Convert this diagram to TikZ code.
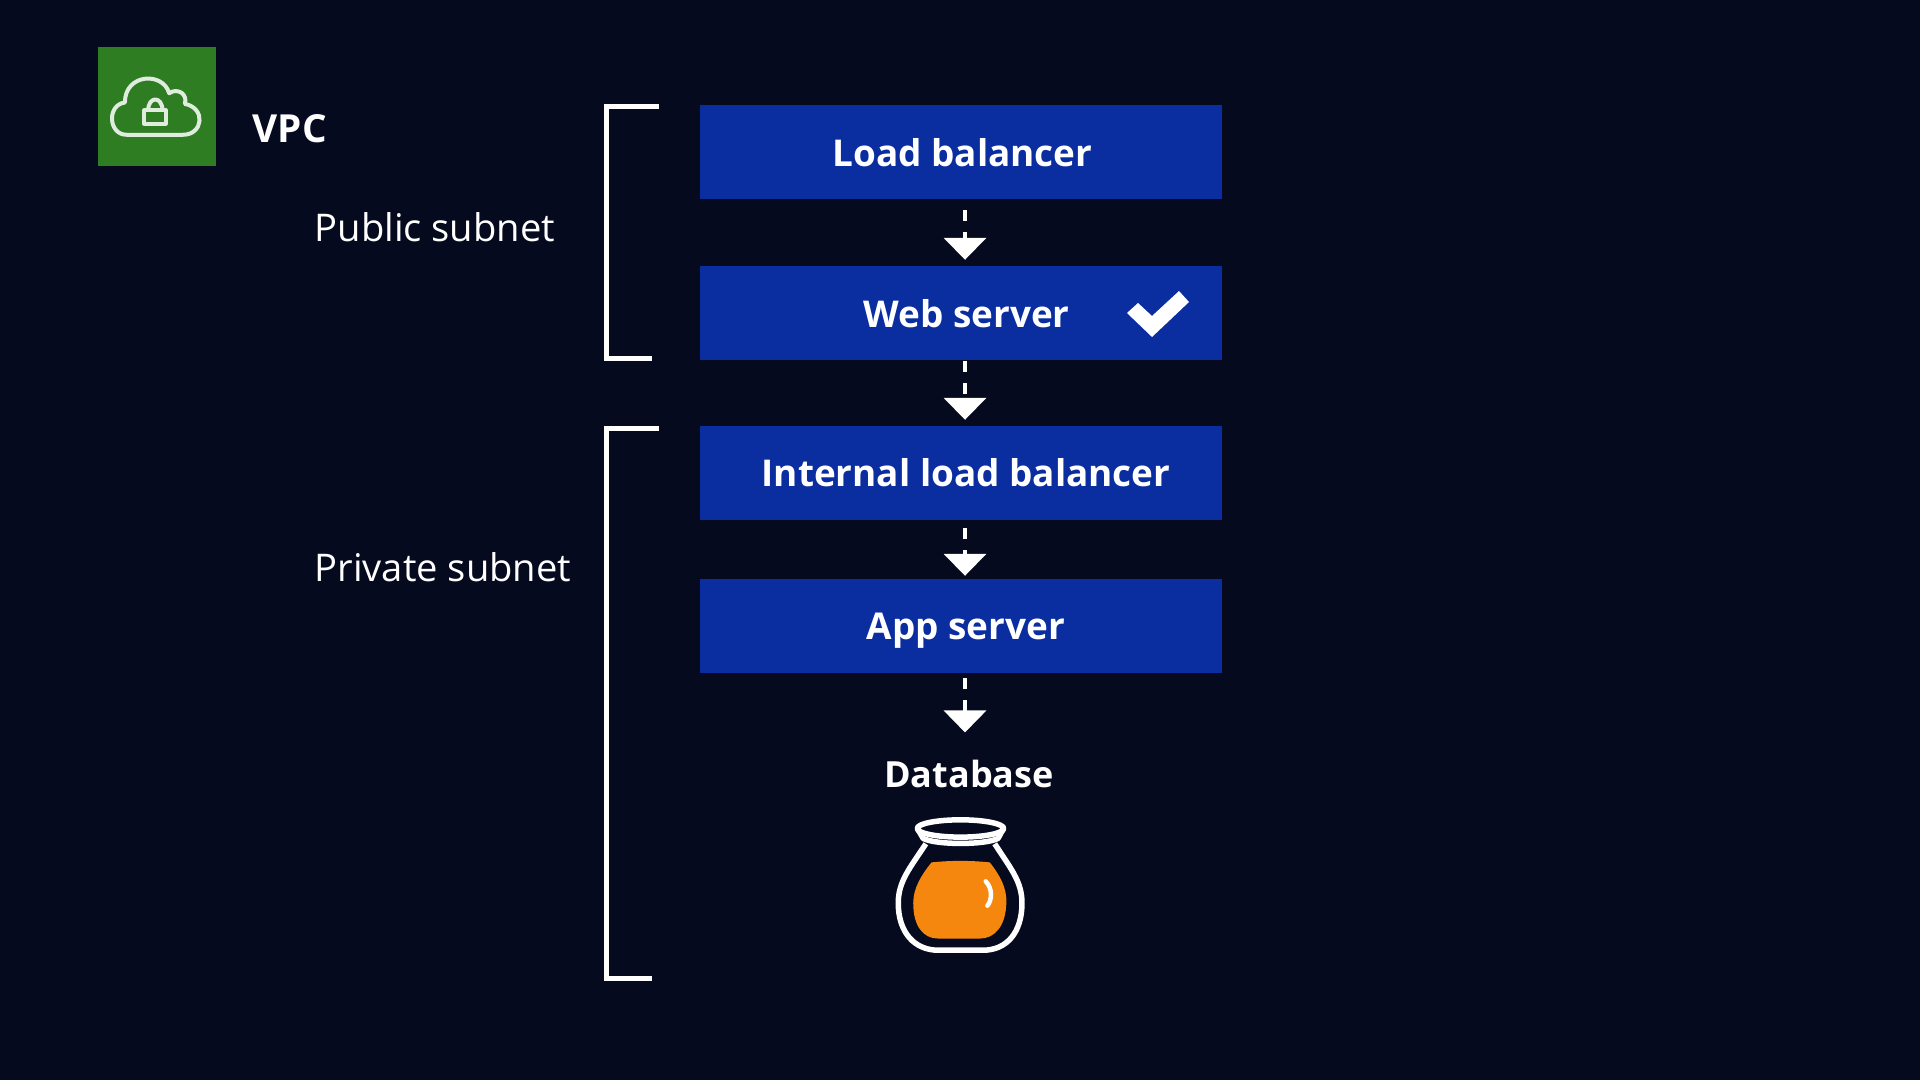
\documentclass[tikz,border=0pt]{standalone}
\usepackage{fontspec}
\setmainfont{Open Sans}
\usepackage{xcolor}
\usetikzlibrary{arrows.meta}
\definecolor{NightBlue}{RGB}{5,10,30}
\definecolor{BoxBlue}{RGB}{10,45,160}
\definecolor{VpcGreen}{RGB}{46,125,35}
\definecolor{JarOrange}{RGB}{245,135,15}
\tikzset{
	tier/.style={fill=BoxBlue, minimum width=5.22cm, minimum height=0.94cm, inner sep=0pt, text height=0.28cm, text depth=0cm, text=white, font=\fontsize{10.5}{12}\selectfont\bfseries},
	flow/.style={white, line width=0.04cm, dash pattern=on 0.11cm off 0.11cm, -{Triangle[width=0.42cm,length=0.22cm]}},
	subnetlabel/.style={anchor=west, inner sep=0pt, text=white, font=\fontsize{10.85}{12}\selectfont},
	bracket/.style={white, line width=0.05cm}
}
\begin{document}
\begin{tikzpicture}[y=-1cm]
	\fill[NightBlue] (0,0) rectangle (19.2,10.8);
	\useasboundingbox (0,0) rectangle (19.2,10.8);
	% vpc icon
	\fill[VpcGreen] (0.98,0.47) rectangle (2.16,1.66);
	\begin{scope}[shift={(0.8,0.3)}, x=0.003333cm, y=-0.003333cm, white!85!VpcGreen, line width=0.04cm, line join=round]
		\draw (140,315) .. controls (85,315) and (80,225) .. (135,218)
			.. controls (135,130) and (250,125) .. (268,190)
			.. controls (295,172) and (325,195) .. (315,222)
			.. controls (380,235) and (370,315) .. (310,315) -- cycle;
		\draw (193,242) rectangle (258,282);
		\draw (205,242) .. controls (205,198) and (248,198) .. (248,242);
	\end{scope}
	\node[subnetlabel, font=\fontsize{11}{12}\selectfont\bfseries] (vpc) at (2.52,1.285) {VPC};
	\node[subnetlabel] (public) at (3.14,2.27) {Public subnet};
	\node[subnetlabel] (private) at (3.14,5.67) {Private subnet};
	% brackets
	\draw[bracket] (6.59,1.07) -- (6.06,1.07) -- (6.06,3.59) -- (6.52,3.59);
	\draw[bracket] (6.59,4.29) -- (6.06,4.29) -- (6.06,9.78) -- (6.52,9.78);
	% tiers
	\node[tier] (lb) at (9.61,1.525) {\hspace*{0.03cm}Load balancer};
	\node[tier] (web) at (9.61,3.135) {\hspace*{0.11cm}Web server};
	\node[tier] (ilb) at (9.61,4.725) {\hspace*{0.1cm}Internal load balancer};
	\node[tier] (app) at (9.61,6.255) {\hspace*{0.1cm}App server};
	\node[inner sep=0pt, text=white, font=\fontsize{10.25}{12}\selectfont\bfseries] (db) at (9.69,7.74) {Database};
	\fill[white] (11.27,3.13) -- (11.38,3.03) -- (11.52,3.16) -- (11.79,2.91) -- (11.89,3.02) -- (11.52,3.37) -- cycle;
	% arrows
	\draw[flow, shorten <=0.1cm, shorten >=0.06cm] ([xshift=0.04cm]lb.south) -- ([xshift=0.04cm]web.north);
	\draw[flow, shorten >=0.05cm] ([xshift=0.04cm]web.south) -- ([xshift=0.04cm]ilb.north);
	\draw[flow, shorten <=0.08cm, shorten >=0.02cm] ([xshift=0.04cm]ilb.south) -- ([xshift=0.04cm]app.north);
	\draw[flow, shorten <=0.05cm, shorten >=0.27cm] ([xshift=0.04cm]app.south) -- ([xshift=0.04cm]db.north -| app.south);
	% jar
	\begin{scope}[shift={(8.6,7.4)}, x=0.003333cm, y=-0.003333cm]
		\fill[JarOrange] (215,368) .. controls (270,362) and (335,362) .. (390,368)
			.. controls (420,405) and (442,445) .. (440,490)
			.. controls (438,560) and (405,597) .. (360,597) -- (235,597)
			.. controls (190,597) and (160,560) .. (160,490)
			.. controls (160,445) and (185,405) .. (215,368) -- cycle;
		\draw[white, line width=0.045cm, line cap=round] (378,425) .. controls (398,445) and (398,480) .. (383,498);
		\draw[white, line width=0.055cm, line join=round] (302,266) ellipse (130 and 26);
		\draw[white, line width=0.055cm, line join=round] (176,272) -- (190,296) .. controls (230,316) and (375,316) .. (415,296) -- (428,272);
		\draw[white, line width=0.055cm, line join=round] (198,312) .. controls (150,385) and (115,425) .. (115,490)
			.. controls (115,580) and (165,632) .. (235,632) -- (370,632)
			.. controls (440,632) and (487,580) .. (487,490)
			.. controls (487,425) and (452,385) .. (405,312);
	\end{scope}
\end{tikzpicture}
\end{document}
